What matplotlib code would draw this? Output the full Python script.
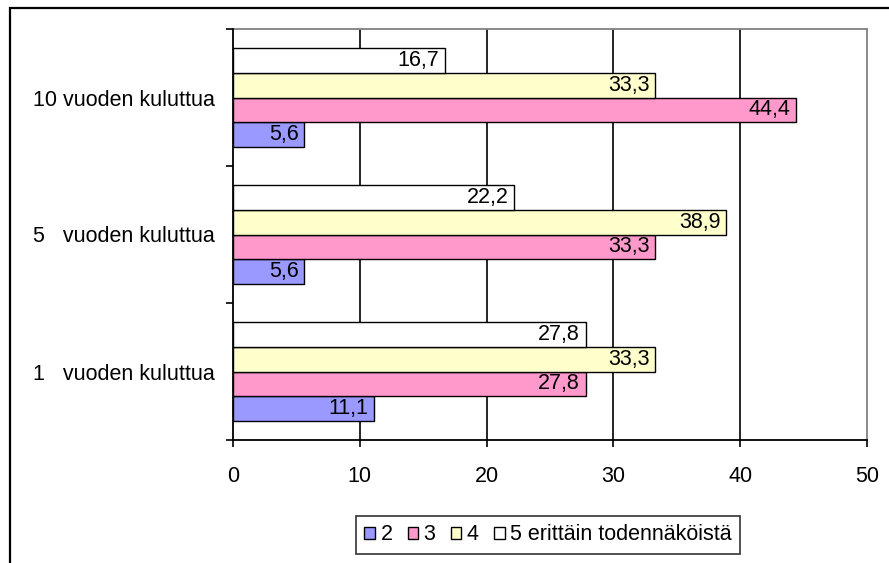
import matplotlib
matplotlib.use("Agg")
import matplotlib.pyplot as plt
from matplotlib.patches import Rectangle, Patch
import numpy as np

plt.rcParams['font.family'] = ['Liberation Sans', 'DejaVu Sans']

categories = ["1   vuoden kuluttua", "5   vuoden kuluttua", "10 vuoden kuluttua"]
series_names = ["2", "3", "4", "5 erittäin todennäköistä"]
vals_2 = [11.1, 5.6, 5.6]
vals_3 = [27.8, 33.3, 44.4]
vals_4 = [33.3, 38.9, 33.3]
vals_5 = [27.8, 22.2, 16.7]
colors = ["#9999FF", "#FF99CC", "#FFFFCC", "#FFFFFF"]
x_ticks = [0, 10, 20, 30, 40, 50]

FS = 15.5
W, H = 889, 563
fig = plt.figure(figsize=(W / 100, H / 100), dpi=100)

# outer chart frame (left and top edges visible)
fig.patches.append(Rectangle((10 / W, -0.1), 1.2, 1 - 8 / H + 0.1,
                             transform=fig.transFigure, fill=False,
                             edgecolor="black", linewidth=1.6, zorder=0))

ax = fig.add_axes([233 / W, 123 / H, (867 - 233) / W, (440 - 29) / H])

y = np.arange(len(categories))
h = 0.179
series = [vals_2, vals_3, vals_4, vals_5]
for i, (vals, col, name) in enumerate(zip(series, colors, series_names)):
    pos = y + (i - 1.5) * h
    bars = ax.barh(pos, vals, height=h, color=col, edgecolor="black",
                   linewidth=1.0, zorder=3, label=name)
    for b, v in zip(bars, vals):
        ax.annotate(f"{v:.1f}".replace(".", ","),
                    xy=(v, b.get_y() + b.get_height() / 2),
                    xytext=(-4, 0), textcoords="offset points",
                    ha="right", va="center", fontsize=FS, zorder=4)

ax.set_xlim(0, 50)
ax.set_ylim(-0.5, 2.5)
ax.set_xticks(x_ticks)
ax.set_xticklabels([str(t) for t in x_ticks], fontsize=FS)
ax.set_yticks(y)
ax.set_yticklabels(categories, fontsize=FS)
ax.set_yticks([-0.5, 0.5, 1.5, 2.5], minor=True)
ax.tick_params(axis="y", which="major", length=0, pad=13)
ax.tick_params(axis="y", which="minor", length=5, width=1.2, direction="out")
ax.tick_params(axis="x", length=5, width=1.2, direction="out", pad=14)

for xv in x_ticks[1:-1]:
    ax.axvline(xv, color="black", linewidth=1.2, zorder=1)

ax.spines["left"].set_color("black")
ax.spines["bottom"].set_color("black")
ax.spines["left"].set_linewidth(1.3)
ax.spines["bottom"].set_linewidth(1.3)
ax.spines["top"].set_color("#808080")
ax.spines["right"].set_color("#808080")
ax.spines["top"].set_linewidth(1.3)
ax.spines["right"].set_linewidth(1.3)
ax.spines["left"].set_zorder(5)

handles = [Patch(facecolor=c, edgecolor="black", linewidth=1.0) for c in colors]
leg = fig.legend(handles, series_names, loc="center",
                 bbox_to_anchor=(548 / W, 1 - 535 / H), ncol=4, fontsize=FS,
                 frameon=True, fancybox=False, edgecolor="black",
                 handlelength=0.5, handleheight=0.5, handletextpad=0.25,
                 columnspacing=0.7, borderpad=0.4, borderaxespad=0)
leg.get_frame().set_linewidth(1.2)

fig.savefig("out.png", dpi=100)
